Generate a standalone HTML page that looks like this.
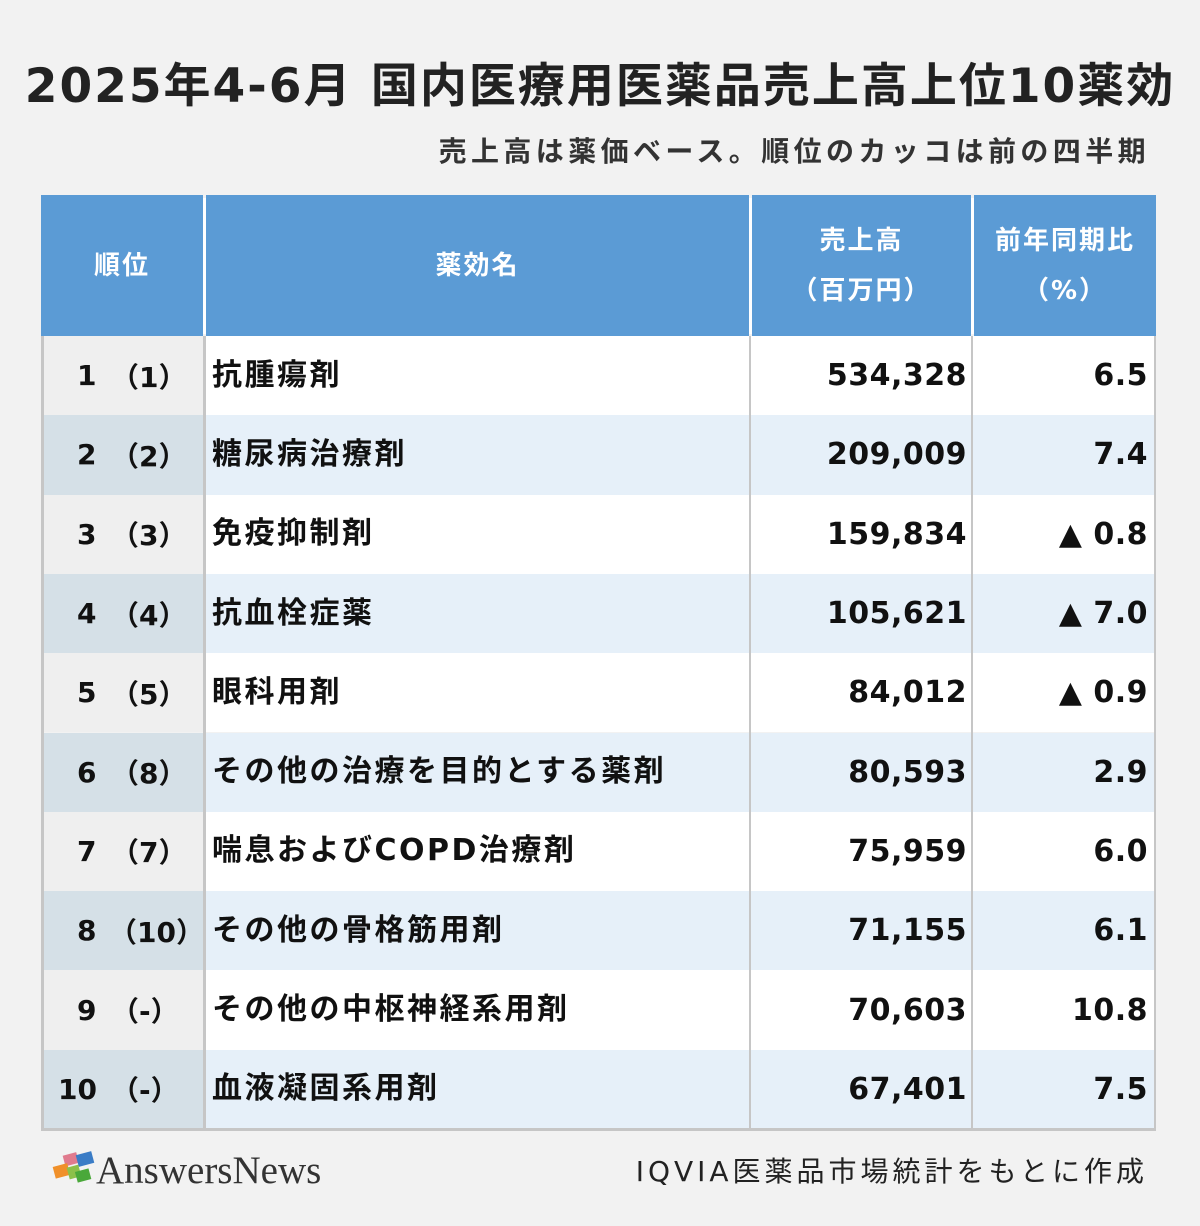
<!DOCTYPE html>
<html><head><meta charset="utf-8"><style>
body{margin:0;width:1200px;height:1226px;background:#f2f2f2;font-family:"DejaVu Sans","Noto Sans CJK JP",sans-serif;position:relative;overflow:hidden;color:#111}
.t{position:absolute;left:0;width:1200px;text-align:center;top:47px;font-size:47px;font-weight:bold;letter-spacing:2px;color:#222;white-space:nowrap}
.s{position:absolute;right:50px;top:130px;font-size:28px;font-weight:bold;color:#333;letter-spacing:4.4px;white-space:nowrap}
.hd{position:absolute;top:195px;height:141px;background:#5b9bd5;color:#fff;font-weight:bold;font-size:26px;letter-spacing:2px;display:flex;align-items:center;justify-content:center;text-align:center;line-height:50px}
.c{position:absolute;height:79.3px;display:flex;align-items:center;font-size:30px;font-weight:bold;box-sizing:border-box;white-space:nowrap}
.n{letter-spacing:0.5px}
.vl{position:absolute;width:3px;background:#c6c6c6}
</style></head><body>
<div class="t">2025年4-6月 国内医療用医薬品売上高上位10薬効</div>
<div class="s">売上高は薬価ベース。順位のカッコは前の四半期</div>
<div class="hd" style="left:41px;width:162px">順位</div>
<div class="hd" style="left:206px;width:543px">薬効名</div>
<div class="hd" style="left:752px;width:219px">売上高<br>（百万円）</div>
<div class="hd" style="left:974px;width:182px">前年同期比<br>（%）</div>
<div id="rows"></div>
<script>
const d=[["1","（1）","抗腫瘍剤","534,328","6.5"],["2","（2）","糖尿病治療剤","209,009","7.4"],["3","（3）","免疫抑制剤","159,834","▲ 0.8"],["4","（4）","抗血栓症薬","105,621","▲ 7.0"],["5","（5）","眼科用剤","84,012","▲ 0.9"],["6","（8）","その他の治療を目的とする薬剤","80,593","2.9"],["7","（7）","喘息およびCOPD治療剤","75,959","6.0"],["8","（10）","その他の骨格筋用剤","71,155","6.1"],["9","（-）","その他の中枢神経系用剤","70,603","10.8"],["10","（-）","血液凝固系用剤","67,401","7.5"]];
let h="";
d.forEach((r,i)=>{const y=336+i*79.3;const ev=i%2==1;const bg=ev?"#e6f0f9":"#fff";const rb=ev?"#d5e0e7":"#efefef";
h+=`<div class="c" style="left:41px;top:${y}px;width:163px;background:${rb};padding-left:${r[0].length>1?17:36}px;font-size:28px"><span style="display:inline-block;width:${r[0].length>1?53:34}px">${r[0]}</span>${r[1]}</div>`;
h+=`<div class="c" style="left:204px;top:${y}px;width:548px;background:${bg};padding-left:8px;letter-spacing:2.5px"><span style="position:relative;top:-4px">${r[2]}</span></div>`;
h+=`<div class="c n" style="left:752px;top:${y}px;width:222px;background:${bg};justify-content:flex-end;padding-right:7px">${r[3]}</div>`;
h+=`<div class="c n" style="left:974px;top:${y}px;width:182px;background:${bg};justify-content:flex-end;padding-right:8px">${r[4]}</div>`;});
h+=`<div class="vl" style="left:41px;top:336px;height:795px"></div><div class="vl" style="left:203px;top:336px;height:795px"></div><div class="vl" style="left:749px;top:336px;height:795px;width:2px"></div><div class="vl" style="left:971px;top:336px;height:795px;width:2px"></div><div class="vl" style="left:1154px;top:336px;height:795px;width:2px"></div><div class="vl" style="left:41px;top:1128px;height:3px;width:1115px"></div>`;
h+=`<div style="position:absolute;left:203px;top:198px;width:3px;height:136px;background:#fff"></div><div style="position:absolute;left:749px;top:198px;width:3px;height:136px;background:#fff"></div><div style="position:absolute;left:971px;top:198px;width:3px;height:136px;background:#fff"></div>`;
document.getElementById("rows").innerHTML=h;
</script>
<svg style="position:absolute;left:50px;top:1150px" width="50" height="40"><rect x="14" y="4" width="14" height="11" fill="#e07b8e" transform="rotate(-15 20 10)"/><rect x="27" y="3" width="16" height="12" fill="#3a7cc6" transform="rotate(-15 35 9)"/><rect x="4" y="15" width="15" height="12" fill="#f0902a" transform="rotate(-15 11 21)"/><rect x="18" y="16" width="12" height="12" fill="#8cc04a" transform="rotate(-15 24 22)"/><rect x="26" y="20" width="14" height="11" fill="#4aa83a" transform="rotate(-15 33 25)"/></svg>
<div style="position:absolute;left:96px;top:1148px;font-family:'Liberation Serif',serif;font-size:39px;letter-spacing:0px;color:#333">AnswersNews</div>
<div style="position:absolute;right:52px;top:1150px;font-size:28px;letter-spacing:4px;color:#222;white-space:nowrap">IQVIA医薬品市場統計をもとに作成</div>
</body></html>
